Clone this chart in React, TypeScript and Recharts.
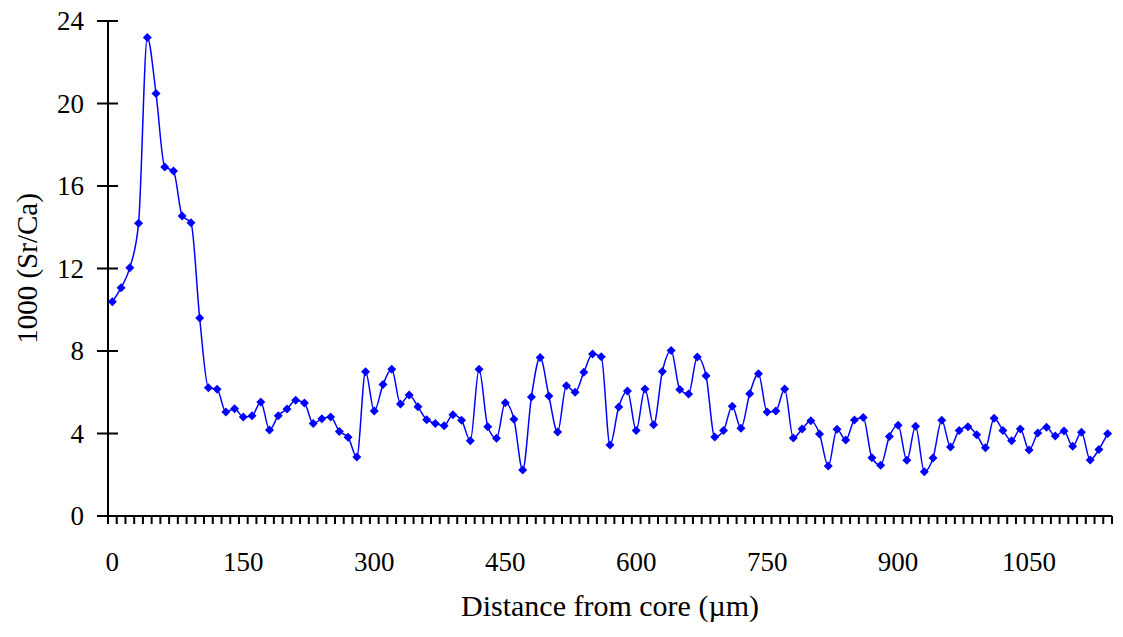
import React from "react";
import { LineChart, Line, XAxis, YAxis } from "recharts";

// Distance from core (µm), one reading every 10 µm
const distances = [
  0, 10, 20, 30, 40, 50, 60, 70, 80, 90,
  100, 110, 120, 130, 140, 150, 160, 170, 180, 190,
  200, 210, 220, 230, 240, 250, 260, 270, 280, 290,
  300, 310, 320, 330, 340, 350, 360, 370, 380, 390,
  400, 410, 420, 430, 440, 450, 460, 470, 480, 490,
  500, 510, 520, 530, 540, 550, 560, 570, 580, 590,
  600, 610, 620, 630, 640, 650, 660, 670, 680, 690,
  700, 710, 720, 730, 740, 750, 760, 770, 780, 790,
  800, 810, 820, 830, 840, 850, 860, 870, 880, 890,
  900, 910, 920, 930, 940, 950, 960, 970, 980, 990,
  1000, 1010, 1020, 1030, 1040, 1050, 1060, 1070, 1080, 1090,
  1100, 1110, 1120, 1130, 1140,
];

// 1000 (Sr/Ca)
const srCa = [
  10.39, 11.07, 12.04, 14.19, 23.2, 20.49, 16.92, 16.73, 14.55, 14.22,
  9.6, 6.22, 6.14, 5.04, 5.2, 4.8, 4.86, 5.53, 4.17, 4.86,
  5.19, 5.61, 5.48, 4.48, 4.72, 4.8, 4.1, 3.82, 2.86, 7.0,
  5.09, 6.37, 7.11, 5.43, 5.87, 5.3, 4.67, 4.49, 4.38, 4.91,
  4.64, 3.65, 7.11, 4.33, 3.77, 5.49, 4.69, 2.23, 5.77, 7.68,
  5.82, 4.07, 6.32, 6.0, 6.97, 7.85, 7.72, 3.44, 5.28, 6.06,
  4.15, 6.16, 4.43, 7.01, 8.02, 6.13, 5.92, 7.71, 6.8, 3.83,
  4.14, 5.32, 4.25, 5.93, 6.9, 5.04, 5.09, 6.16, 3.78, 4.22,
  4.62, 3.98, 2.42, 4.21, 3.68, 4.65, 4.78, 2.83, 2.46, 3.86,
  4.4, 2.7, 4.35, 2.15, 2.81, 4.64, 3.35, 4.15, 4.33, 3.94,
  3.31, 4.74, 4.15, 3.65, 4.22, 3.2, 4.02, 4.3, 3.88, 4.12,
  3.38, 4.06, 2.72, 3.23, 3.99,
];

const xLabels = [0, 150, 300, 450, 600, 750, 900, 1050];
const yTicks = [0, 4, 8, 12, 16, 20, 24];

const data = distances.map((d, i) => ({ d, v: srCa[i] }));

// category boundaries for the small tick marks (half a step each side)
const step = distances[1] - distances[0];
const xMin = distances[0] - step / 2;
const xMax = distances[distances.length - 1] + step / 2;
const minorTicks = [...distances.map((d) => d - step / 2), xMax];
const allXTicks = [...minorTicks, ...xLabels].sort((a, b) => a - b);

const FONT = '"Liberation Serif", "Times New Roman", serif';
const BLUE = "#0000FF";

function XTick(props: any) {
  const { x, y, payload } = props;
  if (xLabels.includes(payload.value)) {
    return (
      <text x={x} y={y + 55} textAnchor="middle" fontFamily={FONT} fontSize={27} fill="#000">
        {payload.value}
      </text>
    );
  }
  return <line x1={x} y1={y} x2={x} y2={y + 8} stroke="#000" strokeWidth={2} />;
}

function YTick(props: any) {
  const { x, y, payload } = props;
  return (
    <g>
      <line x1={x - 11} y1={y} x2={x + 10} y2={y} stroke="#000" strokeWidth={2} />
      <text x={x - 24} y={y + 9} textAnchor="end" fontFamily={FONT} fontSize={27} fill="#000">
        {payload.value}
      </text>
    </g>
  );
}

function Diamond(props: any) {
  const { cx, cy } = props;
  if (cx == null || cy == null) return null;
  const r = 4.5;
  return (
    <polygon
      points={`${cx},${cy - r} ${cx + r},${cy} ${cx},${cy + r} ${cx - r},${cy}`}
      fill={BLUE}
      stroke="none"
    />
  );
}

export default function App() {
  return (
    <div style={{ position: "absolute", left: 0, top: 0, background: "#fff", fontFamily: FONT }}>
      <LineChart
        width={1123}
        height={637}
        data={data}
        margin={{ top: 21, right: 11, bottom: 0, left: 0 }}
        style={{ fontFamily: FONT }}
      >
        <XAxis
          dataKey="d"
          type="number"
          domain={[xMin, xMax]}
          ticks={allXTicks}
          interval={0}
          tickSize={0}
          tickMargin={0}
          tickLine={false}
          tick={<XTick />}
          height={121}
          axisLine={{ stroke: "#000", strokeWidth: 2 }}
          allowDataOverflow
          label={{
            value: "Distance from core (µm)",
            position: "insideBottom",
            offset: 21,
            fontFamily: FONT,
            fontSize: 30,
            fill: "#000",
          }}
        />
        <YAxis
          type="number"
          domain={[0, 24]}
          ticks={yTicks}
          interval={0}
          tickSize={0}
          tickMargin={0}
          tickLine={false}
          tick={<YTick />}
          width={108}
          axisLine={{ stroke: "#000", strokeWidth: 2 }}
          label={{
            value: "1000 (Sr/Ca)",
            angle: -90,
            position: "insideLeft",
            offset: 27,
            fontFamily: FONT,
            fontSize: 29,
            fill: "#000",
            style: { textAnchor: "middle" },
          }}
        />
        <Line
          type="monotone"
          dataKey="v"
          stroke={BLUE}
          strokeWidth={1.5}
          dot={<Diamond />}
          activeDot={false}
          isAnimationActive={false}
        />
      </LineChart>
    </div>
  );
}
